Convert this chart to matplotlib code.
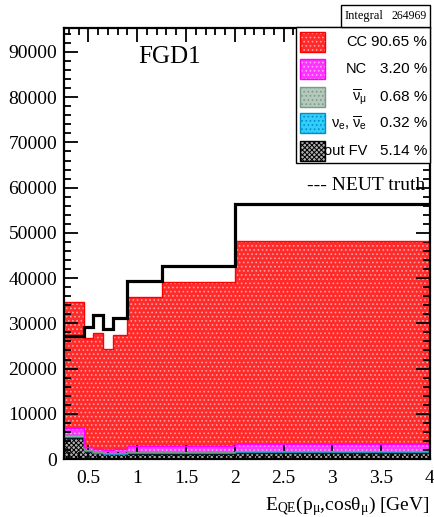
import matplotlib

matplotlib.use("Agg")
import matplotlib.pyplot as plt  # noqa: E402
import numpy as np  # noqa: E402
from matplotlib.patches import Rectangle  # noqa: E402
from matplotlib.ticker import MultipleLocator  # noqa: E402

plt.rcParams["font.family"] = ["Liberation Serif", "DejaVu Serif"]
plt.rcParams["mathtext.fontset"] = "custom"
plt.rcParams["mathtext.rm"] = "Liberation Serif"
plt.rcParams["mathtext.it"] = "Liberation Serif:italic"
plt.rcParams["mathtext.sf"] = "Liberation Sans"
plt.rcParams["hatch.linewidth"] = 0.7

# reconstructed neutrino energy binning [GeV]
edges = [0.25, 0.46, 0.55, 0.65, 0.75, 0.9, 1.25, 2.0, 4.0]

# selected events per bin, split by true topology
out_fv = [4700, 1700, 1300, 1100, 1100, 1200, 1200, 1300]
nue = [150, 60, 60, 60, 70, 120, 150, 180]
anti_numu = [400, 150, 150, 140, 150, 250, 270, 290]
nc = [1600, 700, 700, 700, 800, 1200, 1300, 1500]
cc = [27850, 24090, 25590, 22300, 25280, 33030, 36180, 44830]

neut_truth = [27200, 29200, 31800, 28700, 31100, 39300, 42600, 56300]

labels = ["CC", "NC", r"$\overline{\mathsf{\nu}}_{\mathsf{\mu}}$",
          r"$\mathsf{\nu}_{\mathsf{e}}\mathsf{,}\ \overline{\mathsf{\nu}}_{\mathsf{e}}$", "out FV"]
fractions = ["90.65 %", "3.20 %", "0.68 %", "0.32 %", "5.14 %"]
integral = "264969"

# bottom -> top drawing order of the stack: (values, face, hatch colour, line colour, hatch)
stack = [
    (out_fv, "#b0b0b0", "black", "black", "xxxxxxx"),
    (nue, "#33ccff", "#0090c0", "#0090c0", "...."),
    (anti_numu, "#b4c8bc", "#7a9a8a", "#7a9a8a", "...."),
    (nc, "#ff33ff", "#ffaaff", "#ff00ff", "...."),
    (cc, "#ff2a2a", "#ffa0a0", "#ff0000", "...."),
]
# legend styles follow the legend order (top -> bottom)
legend_styles = [s[1:] for s in stack[::-1]]

fig = plt.figure(figsize=(4.35, 5.17), dpi=100)
W, H = 435, 517
ax = fig.add_axes([64 / W, 1 - 459 / H, (430 - 64) / W, (459 - 28) / H])

base = np.zeros(len(edges) - 1)
for vals, face, hcol, lcol, hatch in stack:
    top = base + np.array(vals, dtype=float)
    ax.stairs(top, edges, baseline=base, fill=True, facecolor=face,
              edgecolor=hcol, hatch=hatch, linewidth=0, zorder=2)
    ax.stairs(top, edges, baseline=None, color=lcol, linewidth=1.0, zorder=3)
    base = top

ax.stairs(neut_truth, edges, baseline=None, color="black", linewidth=2.3, zorder=4)

ax.set_xlim(0.25, 4.0)
ax.set_ylim(0, 95300)
ax.xaxis.set_minor_locator(MultipleLocator(0.1))
ax.yaxis.set_major_locator(MultipleLocator(10000))
ax.yaxis.set_minor_locator(MultipleLocator(2000))
ax.set_xticks(np.arange(0.5, 4.01, 0.5))
ax.set_xticklabels(["0.5", "1", "1.5", "2", "2.5", "3", "3.5", "4"])
ax.tick_params(which="both", direction="in", top=True, right=True,
               width=1.3, labelsize=14)
ax.tick_params(axis="y", pad=5)
ax.tick_params(axis="x", pad=8)
ax.tick_params(which="major", length=10)
ax.tick_params(which="minor", length=5)
for sp in ax.spines.values():
    sp.set_linewidth(1.6)
    sp.set_zorder(6)
ax.set_axisbelow(False)

ax.set_xlabel(r"E$_{\mathrm{QE}}$(p$_{\mathrm{\mu}}$,cos$\mathrm{\theta}_{\mathrm{\mu}}$) [GeV]",
              fontsize=14, loc="right", labelpad=5)

ax.text((170 - 64) / (430 - 64), 1 - (57 - 28) / 431, "FGD1",
        transform=ax.transAxes, fontsize=18, ha="center", va="center")
ax.text((425 - 64) / (430 - 64), 1 - (185 - 28) / 431, "--- NEUT truth",
        transform=ax.transAxes, fontsize=14, ha="right", va="center")


def fx(px):
    return px / W


def fy(py):
    return 1 - py / H


# legend box
fig.add_artist(Rectangle((fx(296), fy(163)), fx(430) - fx(296), fy(27) - fy(163),
                         transform=fig.transFigure, facecolor="white",
                         edgecolor="black", linewidth=1.0, zorder=10))
row_y = [42, 69, 97, 123, 151]
for (face, hcol, lcol, hatch), lab, frac, py in zip(legend_styles, labels, fractions, row_y):
    box = (fx(300), fy(py + 10)), fx(325) - fx(300), fy(py - 10) - fy(py + 10)
    fig.add_artist(Rectangle(*box, transform=fig.transFigure, facecolor=face,
                             edgecolor=hcol, hatch=hatch, linewidth=0, zorder=11))
    fig.add_artist(Rectangle(*box, transform=fig.transFigure, facecolor="none",
                             edgecolor=lcol, linewidth=1.0, zorder=12))
    fig.text(fx(367), fy(py), lab, ha="right", va="center", fontsize=10.5,
             family=["Liberation Sans", "DejaVu Sans"], zorder=13)
    fig.text(fx(427), fy(py), frac, ha="right", va="center", fontsize=11,
             family=["Liberation Sans", "DejaVu Sans"], zorder=13)

# integral box
fig.add_artist(Rectangle((fx(341), fy(27)), fx(430) - fx(341), fy(5) - fy(27),
                         transform=fig.transFigure, facecolor="white",
                         edgecolor="black", linewidth=1.0, zorder=10))
fig.text(fx(345), fy(16), "Integral", ha="left", va="center", fontsize=9, zorder=13)
fig.text(fx(427), fy(16), integral, ha="right", va="center", fontsize=8.5, zorder=13)

fig.savefig("out.png", dpi=100)
plt.close(fig)
